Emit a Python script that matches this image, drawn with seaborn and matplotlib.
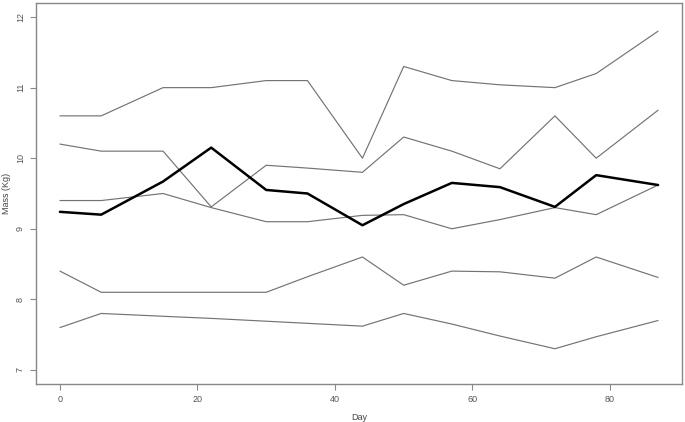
import numpy as np
import pandas as pd
import seaborn as sns

import matplotlib
matplotlib.use('Agg')

import matplotlib.pyplot as plt

# Sampling days
days = [0, 6, 15, 22, 30, 36, 44, 50, 57, 64, 72, 78, 87]

# Individual mass curves (Kg)
mass_a = [10.6, 10.6, 11.0, 11.0, 11.1, 11.1, 10.0, 11.3, 11.1, 11.04, 11.0, 11.2, 11.8]
mass_b = [10.2, 10.1, 10.1, 9.31, 9.9, 9.86, 9.8, 10.3, 10.1, 9.85, 10.6, 10.0, 10.68]
mass_c = [9.4, 9.4, 9.5, 9.3, 9.1, 9.1, 9.19, 9.2, 9.0, 9.13, 9.3, 9.2, 9.62]
mass_d = [8.4, 8.1, 8.1, 8.1, 8.1, 8.32, 8.6, 8.2, 8.4, 8.39, 8.3, 8.6, 8.31]
mass_e = [7.6, 7.8, 7.76, 7.73, 7.69, 7.66, 7.62, 7.8, 7.65, 7.48, 7.3, 7.47, 7.7]
# Mean curve (bold)
mass_mean = [9.24, 9.2, 9.67, 10.15, 9.55, 9.5, 9.05, 9.35, 9.65, 9.59, 9.31, 9.76, 9.62]

series = {"a": mass_a, "b": mass_b, "c": mass_c, "d": mass_d, "e": mass_e}

sns.set_style("white")
plt.rcParams['font.family'] = ['Liberation Sans', 'DejaVu Sans']

fig = plt.figure(figsize=(6.85, 4.22), dpi=100)
ax = fig.add_axes([0.0526, 0.09, 0.943, 0.903])

for name, vals in series.items():
    sns.lineplot(x=days, y=vals, color="#737373", linewidth=0.85, ax=ax)
sns.lineplot(x=days, y=mass_mean, color="black", linewidth=1.8, ax=ax)

ax.set_xlim(-3.48, 90.48)
ax.set_ylim(6.8, 12.2)
ax.set_xticks([0, 20, 40, 60, 80])
ax.set_yticks([7, 8, 9, 10, 11, 12])
ax.tick_params(axis='both', direction='out', length=4, width=0.8, color="#888888",
               labelsize=6.5, labelcolor="#555555", pad=4, bottom=True, left=True)
for lab in ax.get_yticklabels():
    lab.set_rotation(90)
    lab.set_va('center')

for sp in ax.spines.values():
    sp.set_color("#888888")
    sp.set_linewidth(1.0)

ax.set_xlabel("Day", fontsize=6.5, color="#444444")
ax.set_ylabel("Mass (Kg)", fontsize=6.5, color="#444444")
ax.xaxis.set_label_coords(0.5, -0.087)
ax.xaxis.label.set_va('center')
ax.yaxis.set_label_coords(-0.045, 0.5)
ax.yaxis.label.set_va('center')

plt.savefig("out.png", dpi=100)
plt.close()
